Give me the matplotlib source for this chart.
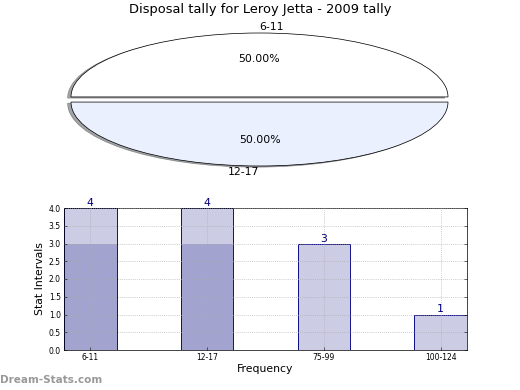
import matplotlib
matplotlib.use('Agg')
import matplotlib.pyplot as plt

# pie data
pie_labels = ['6-11', '12-17']
pie_values = [1, 1]
pie_colors = ['white', '#ebf0fe']

# bar data
bar_labels = ['6-11', '12-17', '75-99', '100-124']
bar_values = [4, 4, 3, 1]
bar_values2 = [3, 3, 0, 0]

title = 'Disposal tally for Leroy Jetta - 2009 tally'

fig = plt.figure(figsize=(8, 6), dpi=65)

# pie (stretched, not equal aspect)
axp = fig.add_axes([71/520., 1 - 166/390., 377/520., 133/390.])
wedges, texts, autotexts = axp.pie(pie_values, labels=pie_labels, colors=pie_colors,
                                   explode=[0.04, 0.04], autopct='%.2f%%',
                                   shadow=True, startangle=0, labeldistance=1.1,
                                   wedgeprops=dict(edgecolor='black', linewidth=0.8),
                                   textprops=dict(fontsize=12))
# old-style label alignment
texts[0].set_ha('left')
texts[1].set_ha('right')
axp.set_aspect('auto')
axp.set_xlim(-1.0, 1.0)
axp.set_ylim(-1.04, 1.04)
fig.text(0.5, 1 - 10/390., title, ha='center', va='center', fontsize=14.4)

# bars
ax = fig.add_axes([64/520., 1 - 350/390., 403/520., 142/390.])
x = range(len(bar_labels))
ax.bar(x, bar_values, width=0.45, color='navy', alpha=0.2, edgecolor='none', zorder=1)
ax.bar(x, bar_values2, width=0.45, color='navy', alpha=0.2, edgecolor='none', zorder=1)
ax.bar(x, bar_values, width=0.45, fill=False, edgecolor='navy', linewidth=1, zorder=2)
for i, v in zip(x, bar_values):
    ax.text(i, v, str(v), ha='center', va='bottom', color='navy', fontsize=12)
ax.set_xlim(-0.225, 3.225)
ax.set_ylim(0, 4)
ax.set_xticks(list(x))
ax.set_xticklabels(bar_labels, fontsize=8.5)
ax.set_yticks([i * 0.5 for i in range(9)])
ax.set_yticklabels(['%.1f' % (i * 0.5) for i in range(9)], fontsize=8.5)
ax.tick_params(direction='in', length=3, width=0.6, top=False, right=True)
ax.grid(True, linestyle=':', color='#aaaaaa', linewidth=0.8)
ax.set_axisbelow(False)
ax.set_ylabel('Stat Intervals', fontsize=12, labelpad=4)
ax.set_xlabel('Frequency', fontsize=12, labelpad=2)

fig.text(0.0, 1 - 380/390., 'Dream-Stats.com', ha='left', va='center',
         fontsize=11.5, color='#999999', fontweight='bold')

plt.savefig('out.png', dpi=65)
